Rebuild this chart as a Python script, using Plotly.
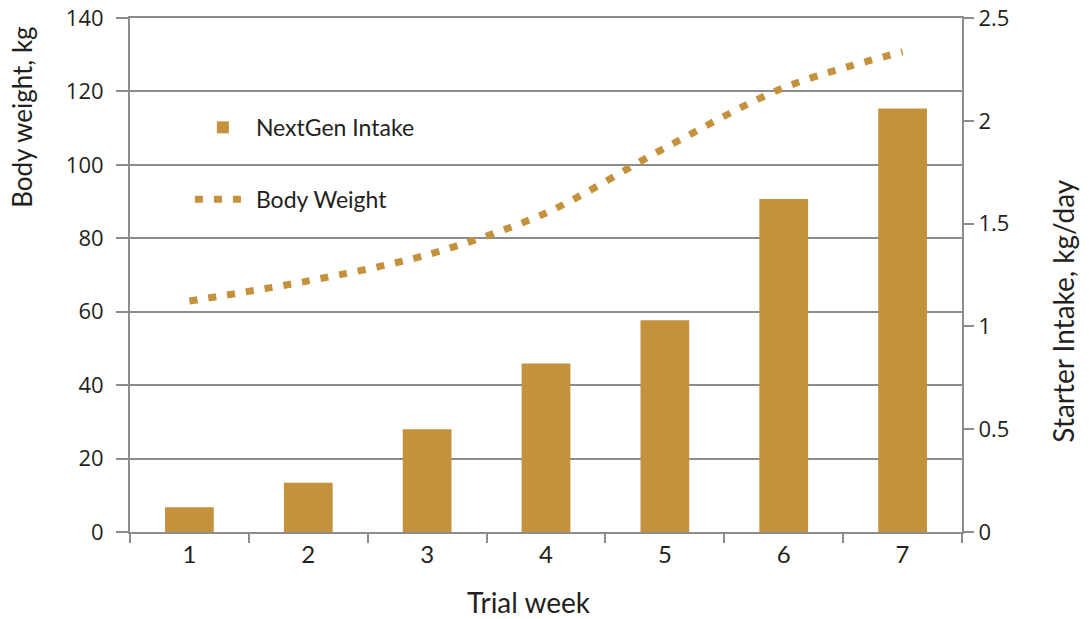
import plotly.graph_objects as go

weeks = ["1", "2", "3", "4", "5", "6", "7"]
intake = [0.12, 0.24, 0.50, 0.82, 1.03, 1.62, 2.06]          # Starter intake, kg/day
body_weight = [62.9, 68.4, 75.5, 86.9, 104.6, 121.0, 130.8]   # Body weight, kg

gold = "#C4913D"
grid = "#8C8C8C"
txt = "#231F20"

fig = go.Figure()
fig.add_trace(go.Bar(
    x=weeks, y=intake, name="NextGen Intake", marker=dict(color=gold, line=dict(width=0)),
    yaxis="y", legendgroup="a", width=0.41,
))
fig.add_trace(go.Scatter(
    x=weeks, y=body_weight, name="Body Weight", mode="lines",
    line=dict(color=gold, width=7, dash="8px,11px", shape="spline", smoothing=0.9),
    yaxis="y2", legendgroup="b",
))

fig.update_layout(
    width=1089, height=619,
    margin=dict(l=130, r=127, t=18, b=87),
    paper_bgcolor="white", plot_bgcolor="white",
    font=dict(family="Lato", size=20, color=txt),
    showlegend=True,
    legend=dict(
        x=0.072, y=0.829, xanchor="left", yanchor="top",
        bgcolor="rgba(0,0,0,0)", borderwidth=0,
        font=dict(family="Lato", size=23, color=txt),
        traceorder="grouped", tracegroupgap=39, itemwidth=56,
    ),
    xaxis=dict(
        type="category", categoryorder="array", categoryarray=weeks,
        tickson="boundaries", ticks="outside", ticklen=9, tickwidth=2, tickcolor=grid,
        showline=True, mirror=True, linecolor=grid, linewidth=2, showgrid=False,
        automargin=False,
        tickfont=dict(family="Lato", size=24, color=txt),
        range=[-0.5, 6.5],
    ),
    yaxis=dict(
        side="right", range=[0, 2.5], tickvals=[0, 0.5, 1, 1.5, 2, 2.5],
        ticktext=["0", "0.5", "1", "1.5", "2", "2.5"],
        ticks="outside", ticklen=10, tickwidth=2, tickcolor=grid, automargin=False,
        ticklabeloverflow="allow",
        showline=True, linecolor=grid, linewidth=2, showgrid=False, zeroline=False,
        tickfont=dict(family="Open Sans", size=22, color=txt),
    ),
    yaxis2=dict(
        side="left", overlaying="y", range=[0, 140], tickvals=[0, 20, 40, 60, 80, 100, 120, 140],
        ticks="outside", ticklen=12, tickwidth=2, tickcolor=grid, automargin=False,
        ticklabelstandoff=8, ticklabeloverflow="allow",
        showline=True, linecolor=grid, linewidth=2,
        showgrid=True, gridcolor=grid, gridwidth=2, zeroline=False,
        tickfont=dict(family="Open Sans", size=22, color=txt),
    ),
    annotations=[
        dict(text="Body weight, kg", xref="paper", yref="paper", x=-0.13, y=0.5,
             xanchor="center", yanchor="middle", yshift=158,
             textangle=-90, showarrow=False, font=dict(family="Lato", size=26, color=txt)),
        dict(text="Starter Intake, kg/day", xref="paper", yref="paper", x=1.121, y=0.5,
             xanchor="center", yanchor="middle", yshift=-36,
             textangle=-90, showarrow=False, font=dict(family="Lato", size=28, color=txt)),
        dict(text="Trial week", xref="paper", yref="paper", x=0.4796, y=-0.173,
             showarrow=False, font=dict(family="Lato", size=28, color=txt)),
    ],
)

fig.write_html("out.html", config={"displayModeBar": False},
               post_script="document.body.style.margin='0';")
